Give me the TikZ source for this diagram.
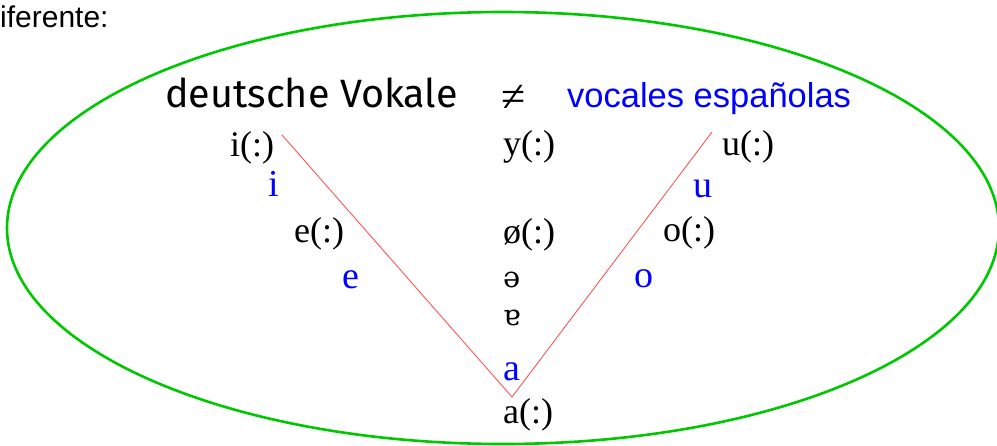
\documentclass[tikz,border=0pt]{standalone}
\usepackage{fontspec}
\setmainfont{Liberation Serif}
\newfontfamily\headfont{Fira Sans}
\newfontfamily\arialfont{Liberation Sans}
\newfontfamily\ipafont{DejaVu Serif}
\definecolor{ellgreen}{RGB}{0,200,0}
\definecolor{vowblue}{RGB}{0,0,255}
\definecolor{linered}{RGB}{255,70,70}

\begin{document}
\begin{tikzpicture}[x=1pt,y=-1pt,
  vde/.style={anchor=base west, inner sep=0pt, font=\fontsize{36}{40}\selectfont},
  ves/.style={vde, text=vowblue, font=\fontsize{38}{42}\selectfont},
  vipa/.style={anchor=base west, inner sep=0pt, font=\ipafont\fontsize{29}{32}\selectfont},
  tri/.style={draw=linered, line width=0.8pt},
]
\useasboundingbox (0,0) rectangle (997,445);
% frame
\draw[ellgreen, line width=2.6pt] (503,228) ellipse [x radius=496pt, y radius=216pt];
% headings
\node[anchor=base west, inner sep=0pt, font=\arialfont\fontsize{30}{34}\selectfont] (dif) at (0,27) {iferente:};
\node[anchor=base west, inner sep=0pt, font=\headfont\fontsize{39.5}{44}\selectfont] (deV) at (165,107) {deutsche Vokale};
\node[inner sep=0pt, font=\fontsize{44}{48}\selectfont] (neq) at (514,98) {≠};
\node[anchor=base west, inner sep=0pt, text=vowblue, font=\arialfont\fontsize{34.5}{38}\selectfont] (esV) at (567,107) {vocales españolas};
% vowels
\node[vde] (iL) at (230,156) {i(:)};
\node[vde] (yL) at (503,155) {y(:)};
\node[vde] (uL) at (722,155) {u(:)};
\node[ves] (iS) at (268,196) {i};
\node[ves] (uS) at (693,197) {u};
\node[vde] (eL) at (294,242) {e(:)};
\node[vde] (oeL) at (503,243) {ø(:)};
\node[vde] (oL) at (663,241) {o(:)};
\node[ves] (eS) at (342,288) {e};
\node[vipa] (schwa) at (503,287) {ə};
\node[ves] (oS) at (634,287) {o};
\node[vipa] (turna) at (503,325) {ɐ};
\node[ves] (aS) at (503,380) {a};
\node[vde] (aL) at (503,423) {a(:)};
% triangle
\coordinate (ltop) at (282,135);
\coordinate (vtx) at (512,397);
\coordinate (rtop) at (712,132);
\draw[tri] (ltop) -- (vtx) -- (rtop);
\end{tikzpicture}
\end{document}
